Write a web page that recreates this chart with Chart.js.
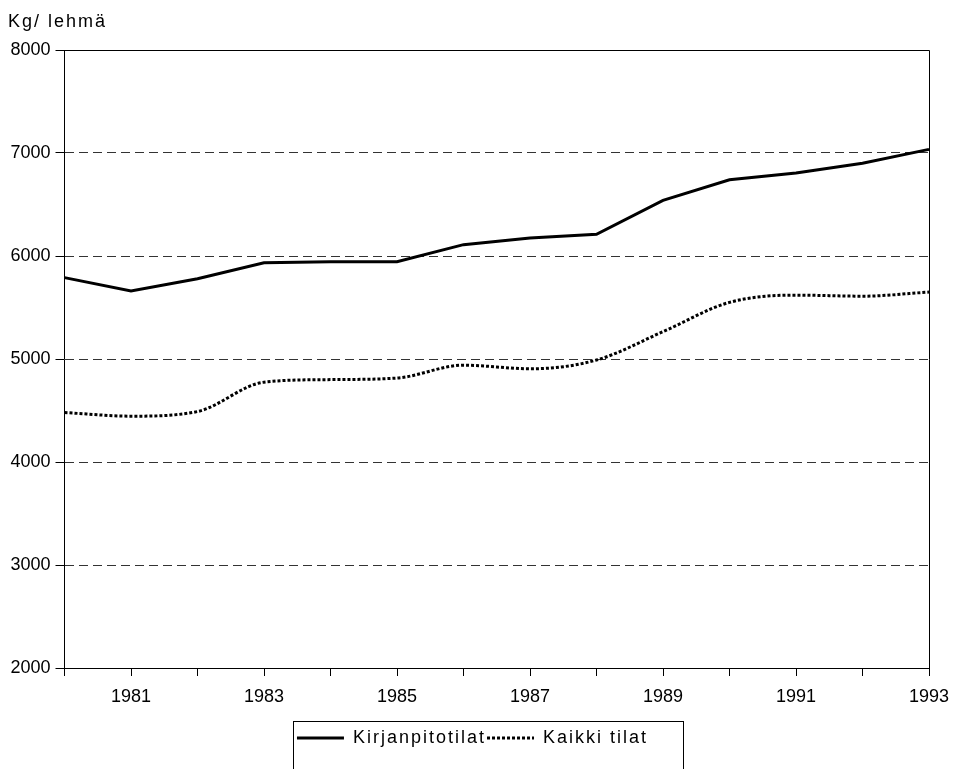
<!DOCTYPE html>
<html>
<head>
<meta charset="utf-8">
<script src="https://cdn.jsdelivr.net/npm/chart.js@4/dist/chart.umd.min.js"></script>
<style>
  body { margin: 0; background: #fff; }
  #wrap { position: relative; width: 954px; height: 769px; }
  #ytitle {
    position: absolute; left: 8px; top: 12px;
    font: 18px "Liberation Sans", Arial, sans-serif; line-height: 18px;
    letter-spacing: 2px; color: #000;
  }
</style>
</head>
<body>
<div id="wrap">
  <div id="ytitle">Kg/ lehmä</div>
  <canvas id="chart" width="954" height="769"></canvas>
</div>
<script>
// values
const years = [1980, 1981, 1982, 1983, 1984, 1985, 1986, 1987, 1988, 1989, 1990, 1991, 1992, 1993];
const kirjanpitotilat = [5790, 5660, 5780, 5935, 5945, 5945, 6110, 6175, 6210, 6540, 6740, 6805, 6900, 7035];
const kaikkiTilat = [4480, 4445, 4490, 4775, 4800, 4815, 4940, 4905, 4990, 5265, 5550, 5620, 5610, 5650];
const yMin = 2000, yMax = 8000, yStep = 1000;

Chart.defaults.font.family = '"Liberation Sans", Arial, sans-serif';
Chart.defaults.font.size = 18;
Chart.defaults.color = '#000';

// spaced-out legend text, as in the scan; legend sits a bit right of centre
const legendTweak = {
  id: 'legendTweak',
  afterInit(chart) {
    const lg = chart.legend;
    const fit = lg.fit.bind(lg), draw = lg.draw.bind(lg);
    lg.fit = function () { const c = this.ctx; c.letterSpacing = '2px'; fit(); c.letterSpacing = '0px'; };
    lg.draw = function () { const c = this.ctx; c.letterSpacing = '2px'; draw(); c.letterSpacing = '0px'; };
  },
  afterLayout(chart) {
    chart.legend.left += 16;
  }
};

// top/right frame of the plot and the box round the legend
const frame = {
  id: 'frame',
  afterDraw(chart) {
    const {ctx, chartArea: a} = chart;
    ctx.save();
    ctx.strokeStyle = '#000';
    ctx.lineWidth = 1;
    ctx.beginPath();
    ctx.moveTo(a.left, a.top + 0.5);
    ctx.lineTo(a.right + 0.5, a.top + 0.5);
    ctx.lineTo(a.right + 0.5, a.bottom);
    ctx.stroke();
    const hb = chart.legend.legendHitBoxes;
    if (hb && hb.length) {
      const last = hb[hb.length - 1];
      const l = Math.round(hb[0].left - 4) + 0.5;
      const r = Math.round(last.left + last.width + 35) + 0.5;
      const t = Math.round(hb[0].top - 8) + 0.5;
      ctx.strokeRect(l, t, r - l, chart.height + 10 - t);
    }
    ctx.restore();
  }
};

new Chart(document.getElementById('chart'), {
  type: 'line',
  data: {
    labels: years,
    datasets: [
      {
        label: 'Kirjanpitotilat',
        data: kirjanpitotilat,
        borderColor: '#000',
        backgroundColor: '#000',
        borderWidth: 3,
        pointRadius: 0,
        tension: 0
      },
      {
        label: 'Kaikki tilat',
        data: kaikkiTilat,
        borderColor: '#000',
        backgroundColor: '#000',
        borderWidth: 3,
        borderDash: [3, 2],
        pointRadius: 0,
        cubicInterpolationMode: 'monotone'
      }
    ]
  },
  options: {
    responsive: false,
    devicePixelRatio: 1,
    animation: false,
    layout: { padding: { top: 50, right: 25, bottom: 12, left: 0 } },
    plugins: {
      tooltip: { enabled: false },
      legend: {
        position: 'bottom',
        labels: {
          usePointStyle: true,
          pointStyle: 'line',
          pointStyleWidth: 47,
          padding: 1,
          color: '#000',
          font: { size: 18 },
          generateLabels(chart) {
            const items = Chart.defaults.plugins.legend.labels.generateLabels(chart);
            items.forEach(it => {
              const ds = chart.data.datasets[it.datasetIndex];
              it.lineDash = ds.borderDash || [];
              it.lineWidth = ds.borderWidth;
              it.strokeStyle = ds.borderColor;
              it.pointStyle = 'line';
            });
            return items;
          }
        }
      }
    },
    scales: {
      x: {
        offset: false,
        grid: { drawOnChartArea: false, tickLength: 8, color: '#000' },
        border: { color: '#000', width: 1 },
        ticks: {
          autoSkip: false,
          maxRotation: 0,
          padding: 10,
          callback: (v, i) => (years[i] % 2 ? String(years[i]) : '')
        },
        afterFit: s => { s.height = 60; s.paddingRight = 0; }
      },
      y: {
        min: yMin,
        max: yMax,
        grid: { color: '#333', tickColor: '#000', tickLength: 9 },
        border: { color: '#000', width: 1, dash: [9, 5] },
        ticks: { stepSize: yStep, padding: 5, callback: v => String(v) },
        afterFit: s => { s.width = 64.5; }
      }
    }
  },
  plugins: [legendTweak, frame]
});
</script>
</body>
</html>
